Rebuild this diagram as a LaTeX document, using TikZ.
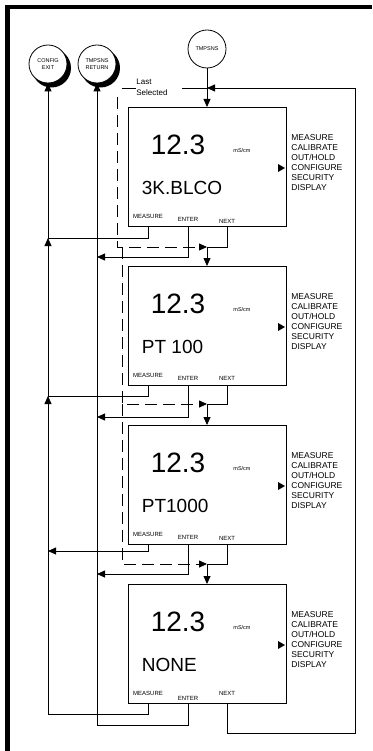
\documentclass[tikz,border=0pt]{standalone}
\usepackage{fontspec}
\setmainfont{Liberation Sans}
\usetikzlibrary{arrows.meta}
\tikzset{
  disp/.style={draw,line width=1pt,minimum width=158pt,minimum height=119pt,anchor=north,inner sep=0pt},
  circ/.style={draw,circle,fill=white,minimum size=38pt,inner sep=0pt,align=center,font=\fontsize{5.5}{7}\selectfont},
  shade/.style={fill=black,circle,minimum size=39pt,inner sep=0pt},
  btn/.style={inner sep=0pt,font=\fontsize{6}{6}\selectfont},
  menu/.style={inner sep=0pt,anchor=west,align=left,font=\fontsize{8.5}{10}\selectfont},
  lastsel/.style={dash pattern=on 12pt off 6pt}
}
\begin{document}
\begin{tikzpicture}[x=1pt,y=-1pt,>={Triangle[length=8pt,width=7pt]},line width=0.8pt]
\useasboundingbox (0,0) rectangle (372,751);
% frame
\fill (5,5) rectangle (372,9);
\fill (5,5) rectangle (10,751);
% circles, the two exits with a black shadow
\node[shade] (exitshade) at (51.5,68) {};
\node[shade] (retshade) at (100.5,68) {};
\node[circ] (exit) at (48,64) {CONFIG\\EXIT};
\node[circ] (ret) at (97,64) {TMPSNS\\RETURN};
\node[circ] (tmp) at (207,49) {TMPSNS};
% displays
\foreach \i/\t/\val/\ey/\ny in {1/107/3K.BLCO/112/114,2/266/PT 100/112/112,3/425/PT1000/112/113,4/584/NONE/114/109}
{
  \node[disp] (b\i) at (207,\t) {};
  \node[inner sep=0pt,font=\fontsize{28}{28}\selectfont] at (178,\t+38) {12.3};
  \node[inner sep=0pt,font=\fontsize{5.5}{6}\selectfont] at (242,\t+44) {mS/cm};
  \node[inner sep=0pt,anchor=west,font=\fontsize{19}{19}\selectfont] at (141.5,\t+81) {\val};
  \fill (278,\t+57) -- (285,\t+61) -- (278,\t+65) -- cycle;
  \node[menu] at (291,\t+56) {MEASURE\\CALIBRATE\\OUT/HOLD\\CONFIGURE\\SECURITY\\DISPLAY};
  \node[btn] (m\i) at (148,\t+109.5) {MEASURE};
  \node[btn] (e\i) at (188,\t+\ey) {ENTER};
  \node[btn] (n\i) at (227,\t+\ny) {NEXT};
}
% MEASURE -> CONFIG EXIT
\foreach \i/\d/\tip in {1/11/-,2/10/-,3/6/->,4/10/-}
  \draw[\tip] (m\i |- b\i.south) -- ++(0,\d) coordinate (mm\i) -- (mm\i -| exit);
\draw (mm4 -| exit) -- (mm3 -| exit);
\draw[->] (mm3 -| exit) -- (mm2 -| exit);
\draw[->] (mm2 -| exit) -- (mm1 -| exit);
\draw[->] (mm1 -| exit) -- (exit.south);
% ENTER -> TMPSNS RETURN
\foreach \i/\d/\tip in {1/30/->,2/31/->,3/29/->,4/21/-}
  \draw[\tip] (e\i |- b\i.south) -- ++(0,\d) coordinate (ee\i) -- (ee\i -| ret);
\draw[->] (ee4 -| ret) -- (ret.south);
% NEXT
\foreach \i/\j/\d in {1/2/20,2/3/18,3/4/19}
{
  \draw (n\i |- b\i.south) -- ++(0,\d) coordinate (nn\i) -- (nn\i -| b\j.north);
  \draw[->] (nn\i -| b\j.north) -- (b\j.north);
}
\coordinate (rc) at (355,733);
\coordinate (lsel) at (207,88);
\coordinate (lsl) at (122,88);
\draw[->] (n4 |- b4.south) |- (rc) |- (lsel);
\draw[->] (tmp) -- (b1.north);
% last selected
\draw (lsl) -- (lsel);
\node[fill=white,inner sep=0pt,align=left,anchor=west,text width=46pt,font=\fontsize{8}{11}\selectfont] (lasttxt) at (136,87) {Last\\Selected};
\coordinate (d0) at (117,97);
\coordinate (d1) at (122,0);
\draw[lastsel,->] (d0) |- (nn1 -| b2.north);
\draw[lastsel,->] (nn1 -| d1) |- (nn2 -| b3.north);
\draw[lastsel,->] (nn2 -| d1) |- (nn3 -| b4.north);
\end{tikzpicture}
\end{document}
